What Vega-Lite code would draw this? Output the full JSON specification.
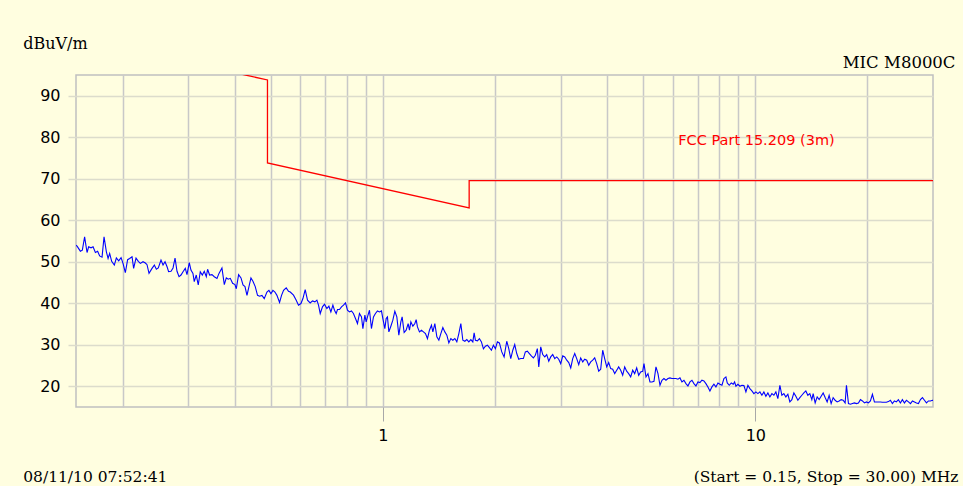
{
  "$schema": "https://vega.github.io/schema/vega-lite/v6.json",
  "width": 857,
  "height": 332,
  "autosize": {"type": "none"},
  "padding": {"left": 76, "top": 75, "right": 30, "bottom": 79},
  "background": "#fffee0",
  "config": {
    "view": {"stroke": "#c0c0c0", "strokeWidth": 1.5, "fill": "#fffee0"}
  },
  "datasets": {
    "trace": [
      {"freq":0.15,"level":54.0},{"freq":0.1510,"level":53.76},{"freq":0.1541,"level":52.55},{"freq":0.1560,"level":52.79},{"freq":0.1582,"level":56.0},{"freq":0.1606,"level":52.23},{"freq":0.1622,"level":53.6},{"freq":0.1646,"level":53.35},{"freq":0.1667,"level":53.6},{"freq":0.1691,"level":52.23},{"freq":0.1715,"level":52.55},{"freq":0.1736,"level":51.4},{"freq":0.1762,"level":51.1},{"freq":0.1784,"level":56.0},{"freq":0.1810,"level":52.4},{"freq":0.1829,"level":50.8},{"freq":0.1847,"level":52.0},{"freq":0.1870,"level":50.1},{"freq":0.1901,"level":49.2},{"freq":0.1925,"level":50.9},{"freq":0.1953,"level":50.2},{"freq":0.1982,"level":51.0},{"freq":0.2006,"level":49.6},{"freq":0.2035,"level":47.4},{"freq":0.2064,"level":50.5},{"freq":0.2090,"level":50.8},{"freq":0.2121,"level":51.2},{"freq":0.2142,"level":48.4},{"freq":0.2174,"level":50.9},{"freq":0.2205,"level":50.1},{"freq":0.2233,"level":49.6},{"freq":0.2270,"level":50.0},{"freq":0.2303,"level":49.7},{"freq":0.2327,"level":49.3},{"freq":0.2356,"level":47.2},{"freq":0.2400,"level":48.4},{"freq":0.2435,"level":49.2},{"freq":0.2465,"level":48.2},{"freq":0.2495,"level":48.5},{"freq":0.2537,"level":50.4},{"freq":0.2569,"level":49.2},{"freq":0.2601,"level":50.0},{"freq":0.2634,"level":48.8},{"freq":0.2659,"level":47.6},{"freq":0.2699,"level":47.7},{"freq":0.2733,"level":48.5},{"freq":0.2767,"level":50.9},{"freq":0.2801,"level":47.7},{"freq":0.2836,"level":46.4},{"freq":0.2871,"level":46.8},{"freq":0.2907,"level":47.6},{"freq":0.2948,"level":48.4},{"freq":0.2979,"level":46.9},{"freq":0.3022,"level":49.8},{"freq":0.3053,"level":48.0},{"freq":0.3091,"level":47.2},{"freq":0.3116,"level":45.2},{"freq":0.3155,"level":46.8},{"freq":0.3194,"level":44.4},{"freq":0.3234,"level":47.6},{"freq":0.3275,"level":46.8},{"freq":0.3315,"level":47.7},{"freq":0.3357,"level":46.4},{"freq":0.3384,"level":48.2},{"freq":0.3426,"level":46.8},{"freq":0.3477,"level":46.9},{"freq":0.3527,"level":46.4},{"freq":0.3586,"level":46.0},{"freq":0.3631,"level":47.2},{"freq":0.3698,"level":48.5},{"freq":0.3752,"level":44.5},{"freq":0.3799,"level":46.1},{"freq":0.3846,"level":45.8},{"freq":0.3894,"level":46.0},{"freq":0.3950,"level":44.8},{"freq":0.4008,"level":44.5},{"freq":0.4041,"level":43.5},{"freq":0.4099,"level":46.9},{"freq":0.4160,"level":46.1},{"freq":0.4212,"level":44.4},{"freq":0.4264,"level":44.0},{"freq":0.4317,"level":41.9},{"freq":0.4370,"level":44.0},{"freq":0.4424,"level":46.1},{"freq":0.4479,"level":45.3},{"freq":0.4543,"level":44.0},{"freq":0.4608,"level":41.9},{"freq":0.4666,"level":41.7},{"freq":0.4735,"level":41.9},{"freq":0.4803,"level":41.1},{"freq":0.4884,"level":42.7},{"freq":0.4944,"level":43.1},{"freq":0.5006,"level":42.3},{"freq":0.5068,"level":43.1},{"freq":0.5131,"level":42.7},{"freq":0.5195,"level":41.9},{"freq":0.5280,"level":40.2},{"freq":0.5345,"level":41.9},{"freq":0.5412,"level":43.1},{"freq":0.5502,"level":43.7},{"freq":0.5581,"level":42.9},{"freq":0.5641,"level":42.7},
      {"freq":0.5756,"level":41.94},{"freq":0.5853,"level":40.74},{"freq":0.5936,"level":39.53},{"freq":0.6026,"level":39.93},{"freq":0.6101,"level":41.14},{"freq":0.6187,"level":43.31},{"freq":0.6276,"level":40.74},{"freq":0.6381,"level":40.09},{"freq":0.6473,"level":40.57},{"freq":0.6569,"level":40.33},{"freq":0.6651,"level":40.74},{"freq":0.6718,"level":39.53},{"freq":0.6789,"level":37.52},{"freq":0.6885,"level":39.13},{"freq":0.6971,"level":39.77},{"freq":0.7075,"level":38.73},{"freq":0.7163,"level":39.29},{"freq":0.7252,"level":37.92},{"freq":0.7342,"level":39.53},{"freq":0.7415,"level":38.32},{"freq":0.7494,"level":37.52},{"freq":0.7555,"level":38.48},{"freq":0.7649,"level":38.48},{"freq":0.7744,"level":39.13},{"freq":0.7840,"level":39.53},{"freq":0.7938,"level":40.09},{"freq":0.8035,"level":38.32},{"freq":0.8135,"level":37.92},{"freq":0.8236,"level":38.16},{"freq":0.8337,"level":37.52},{"freq":0.8443,"level":36.31},{"freq":0.8547,"level":35.11},{"freq":0.8654,"level":37.52},{"freq":0.8763,"level":36.72},{"freq":0.8838,"level":33.90},{"freq":0.8948,"level":37.12},{"freq":0.9020,"level":35.51},{"freq":0.9093,"level":36.72},{"freq":0.9206,"level":38.32},{"freq":0.9319,"level":33.90},{"freq":0.9436,"level":36.72},{"freq":0.9552,"level":37.52},{"freq":0.9672,"level":38.16},{"freq":0.9793,"level":37.92},{"freq":0.9913,"level":38.16},{"freq":1.0,"level":36.31},{"freq":1.0124,"level":33.90},{"freq":1.0206,"level":36.31},{"freq":1.0288,"level":36.72},{"freq":1.0378,"level":33.10},{"freq":1.0507,"level":34.47},{"freq":1.0637,"level":35.91},{"freq":1.0769,"level":38.08},{"freq":1.0903,"level":36.72},{"freq":1.1038,"level":32.30},{"freq":1.1176,"level":35.51},{"freq":1.1266,"level":36.72},{"freq":1.1406,"level":32.94},{"freq":1.1548,"level":33.50},{"freq":1.1693,"level":35.11},{"freq":1.1787,"level":33.50},{"freq":1.1890,"level":35.51},{"freq":1.2038,"level":34.47},{"freq":1.2188,"level":35.11},{"freq":1.2286,"level":36.07},{"freq":1.2385,"level":34.30},{"freq":1.2539,"level":33.10},{"freq":1.2695,"level":33.50},{"freq":1.2853,"level":33.10},{"freq":1.3013,"level":32.70},{"freq":1.3175,"level":31.49},{"freq":1.3339,"level":33.50},{"freq":1.3505,"level":34.71},{"freq":1.3622,"level":33.10},{"freq":1.3791,"level":35.11},{"freq":1.3963,"level":31.89},{"freq":1.4137,"level":31.09},{"freq":1.4312,"level":32.70},{"freq":1.4490,"level":34.14},{"freq":1.4670,"level":33.10},{"freq":1.4853,"level":32.30},{"freq":1.5038,"level":30.45},{"freq":1.5224,"level":31.49},{"freq":1.5414,"level":31.09},{"freq":1.5605,"level":31.49},{"freq":1.5799,"level":30.69},{"freq":1.5996,"level":32.70},{"freq":1.6195,"level":35.11},{"freq":1.6396,"level":31.09},{"freq":1.6600,"level":30.85},{"freq":1.6806,"level":31.25},{"freq":1.7015,"level":30.69},{"freq":1.7227,"level":31.25},{"freq":1.7441,"level":30.69},{"freq":1.7582,"level":32.86},{"freq":1.7724,"level":31.09},{"freq":1.7944,"level":30.93},{"freq":1.8167,"level":31.49},{"freq":1.8393,"level":30.69},{"freq":1.8621,"level":29.0},{"freq":1.8853,"level":29.64},{"freq":1.9087,"level":29.88},{"freq":1.9324,"level":29.32},{"freq":1.9564,"level":28.68},{"freq":1.9807,"level":29.88},{"freq":2.0053,"level":29.08},{"freq":2.0302,"level":30.69},{"freq":2.0555,"level":30.45},
      {"freq":2.086,"level":28.28},{"freq":2.116,"level":27.07},{"freq":2.151,"level":30.85},{"freq":2.178,"level":29.08},{"freq":2.205,"level":26.67},{"freq":2.233,"level":28.68},{"freq":2.260,"level":30.05},{"freq":2.288,"level":27.88},{"freq":2.317,"level":26.51},{"freq":2.346,"level":26.67},{"freq":2.384,"level":26.67},{"freq":2.413,"level":28.28},{"freq":2.443,"level":28.44},{"freq":2.474,"level":27.88},{"freq":2.504,"level":27.31},{"freq":2.536,"level":26.83},{"freq":2.567,"level":27.47},{"freq":2.599,"level":29.08},{"freq":2.622,"level":24.66},{"freq":2.654,"level":29.48},{"freq":2.687,"level":27.63},{"freq":2.721,"level":27.07},{"freq":2.754,"level":27.63},{"freq":2.789,"level":26.03},{"freq":2.823,"level":27.07},{"freq":2.858,"level":27.63},{"freq":2.894,"level":26.67},{"freq":2.930,"level":27.07},{"freq":2.966,"level":26.51},{"freq":3.003,"level":25.46},{"freq":3.041,"level":27.31},{"freq":3.079,"level":27.07},{"freq":3.117,"level":26.27},{"freq":3.156,"level":25.71},{"freq":3.195,"level":24.42},{"freq":3.234,"level":26.67},{"freq":3.275,"level":27.88},{"freq":3.315,"level":26.67},{"freq":3.357,"level":25.22},{"freq":3.398,"level":26.83},{"freq":3.441,"level":25.87},{"freq":3.483,"level":26.51},{"freq":3.527,"level":26.27},{"freq":3.571,"level":25.06},{"freq":3.615,"level":25.87},{"freq":3.660,"level":26.27},{"freq":3.705,"level":26.83},{"freq":3.751,"level":25.46},{"freq":3.798,"level":23.62},{"freq":3.845,"level":24.10},{"freq":3.893,"level":28.68},{"freq":3.941,"level":26.67},{"freq":3.991,"level":24.66},{"freq":4.040,"level":25.71},{"freq":4.090,"level":24.26},{"freq":4.141,"level":24.10},{"freq":4.193,"level":23.05},{"freq":4.245,"level":23.86},{"freq":4.297,"level":24.66},{"freq":4.351,"level":23.86},{"freq":4.405,"level":22.65},{"freq":4.460,"level":24.66},{"freq":4.515,"level":23.62},{"freq":4.571,"level":23.05},{"freq":4.628,"level":22.25},{"freq":4.686,"level":23.86},{"freq":4.744,"level":23.05},{"freq":4.803,"level":24.42},{"freq":4.863,"level":22.65},{"freq":4.923,"level":23.45},{"freq":4.984,"level":23.62},{"freq":5.025,"level":25.46},{"freq":5.087,"level":22.25},{"freq":5.150,"level":23.05},{"freq":5.214,"level":21.04},{"freq":5.279,"level":21.04},{"freq":5.345,"level":21.20},{"freq":5.411,"level":24.66},{"freq":5.479,"level":23.05},{"freq":5.547,"level":20.24},{"freq":5.615,"level":21.44},{"freq":5.685,"level":21.85},{"freq":5.756,"level":21.44},{"freq":5.828,"level":21.85},{"freq":5.900,"level":22.01},{"freq":5.973,"level":21.85},{"freq":6.048,"level":21.85},{"freq":6.123,"level":21.85},{"freq":6.199,"level":21.69},{"freq":6.276,"level":22.01},{"freq":6.354,"level":21.04},{"freq":6.433,"level":21.44},{"freq":6.513,"level":20.64},{"freq":6.594,"level":20.08},{"freq":6.676,"level":21.04},{"freq":6.759,"level":21.44},{"freq":6.843,"level":20.64},{"freq":6.928,"level":20.08},{"freq":7.014,"level":21.04},{"freq":7.101,"level":20.88},
      {"freq":7.189,"level":21.45},{"freq":7.279,"level":21.29},{"freq":7.369,"level":20.64},{"freq":7.461,"level":19.84},{"freq":7.554,"level":18.87},{"freq":7.648,"level":19.84},{"freq":7.743,"level":20.48},{"freq":7.839,"level":19.84},{"freq":7.937,"level":20.80},{"freq":8.035,"level":20.48},{"freq":8.136,"level":20.24},{"freq":8.237,"level":21.85},{"freq":8.339,"level":22.25},{"freq":8.408,"level":20.80},{"freq":8.513,"level":20.24},{"freq":8.619,"level":20.80},{"freq":8.726,"level":20.48},{"freq":8.798,"level":21.04},{"freq":8.871,"level":20.0},{"freq":8.981,"level":20.48},{"freq":9.093,"level":20.0},{"freq":9.206,"level":20.24},{"freq":9.320,"level":20.16},{"freq":9.436,"level":18.63},{"freq":9.553,"level":20.24},{"freq":9.672,"level":19.44},{"freq":9.792,"level":18.87},{"freq":9.914,"level":18.23},{"freq":10.037,"level":18.63},{"freq":10.162,"level":18.23},{"freq":10.288,"level":18.63},{"freq":10.416,"level":17.83},{"freq":10.545,"level":18.63},{"freq":10.676,"level":17.59},{"freq":10.809,"level":18.39},{"freq":10.943,"level":17.43},{"freq":11.079,"level":18.23},{"freq":11.217,"level":17.83},{"freq":11.356,"level":18.63},{"freq":11.497,"level":17.03},{"freq":11.641,"level":20.24},{"freq":11.785,"level":17.83},{"freq":11.932,"level":18.23},{"freq":12.080,"level":17.43},{"freq":12.230,"level":18.07},{"freq":12.382,"level":16.22},{"freq":12.536,"level":16.78},{"freq":12.692,"level":18.39},{"freq":12.849,"level":17.59},{"freq":13.009,"level":16.62},{"freq":13.171,"level":17.27},{"freq":13.334,"level":17.83},{"freq":13.500,"level":18.39},{"freq":13.668,"level":18.87},{"freq":13.838,"level":17.83},{"freq":14.010,"level":18.23},{"freq":14.184,"level":16.78},{"freq":14.301,"level":18.23},{"freq":14.479,"level":15.98},{"freq":14.659,"level":17.43},{"freq":14.841,"level":16.78},{"freq":15.025,"level":17.59},{"freq":15.212,"level":18.39},{"freq":15.401,"level":17.27},{"freq":15.592,"level":16.22},{"freq":15.786,"level":17.83},{"freq":15.982,"level":15.82},{"freq":16.181,"level":17.27},{"freq":16.382,"level":16.62},{"freq":16.585,"level":16.22},{"freq":16.791,"level":16.46},{"freq":17.000,"level":16.78},{"freq":17.211,"level":16.62},{"freq":17.425,"level":15.98},{"freq":17.569,"level":20.24},{"freq":17.788,"level":15.82},{"freq":18.009,"level":15.66},{"freq":18.232,"level":15.82},{"freq":18.459,"level":15.98},{"freq":18.688,"level":15.82},{"freq":18.920,"level":15.98},{"freq":19.155,"level":16.78},{"freq":19.393,"level":16.46},{"freq":19.634,"level":15.98},{"freq":19.878,"level":16.22},{"freq":20.125,"level":15.98},{"freq":20.375,"level":16.46},{"freq":20.628,"level":18.07},{"freq":20.885,"level":16.22},{"freq":21.144,"level":16.22},{"freq":21.407,"level":16.22},{"freq":21.673,"level":16.22},{"freq":21.942,"level":16.14},{"freq":22.215,"level":16.14},{"freq":22.491,"level":16.14},{"freq":22.770,"level":16.30},{"freq":23.053,"level":16.62},{"freq":23.339,"level":15.82},{"freq":23.629,"level":16.46},{"freq":23.923,"level":16.22},{"freq":24.220,"level":16.78},{"freq":24.521,"level":15.98},{"freq":24.826,"level":16.78},{"freq":25.147,"level":15.98},{"freq":25.460,"level":16.62},{"freq":25.777,"level":16.22},{"freq":26.099,"level":15.82},{"freq":26.423,"level":16.46},{"freq":26.752,"level":16.22},{"freq":27.084,"level":15.98},{"freq":27.420,"level":15.82},{"freq":27.762,"level":16.78},{"freq":28.106,"level":17.27},{"freq":28.457,"level":16.62},{"freq":28.809,"level":15.98},{"freq":29.168,"level":16.46},{"freq":29.530,"level":16.46},{"freq":29.899,"level":16.62},{"freq":30.0,"level":16.6}
    ],
    "limit": [
      {"freq": 0.15, "level": 104.08},
      {"freq": 0.49, "level": 93.8},
      {"freq": 0.49, "level": 73.8},
      {"freq": 1.705, "level": 62.97},
      {"freq": 1.705, "level": 69.54},
      {"freq": 30.0, "level": 69.54}
    ],
    "labels": [
      {"freq": 6.21, "level": 79.2, "text": "FCC Part 15.209 (3m)"}
    ]
  },
  "resolve": {"axis": {"x": "independent", "y": "independent"}},
  "layer": [
    {
      "data": {"name": "trace"},
      "mark": {"type": "line", "color": "#0000ff", "strokeWidth": 1.1, "clip": true},
      "encoding": {
        "x": {
          "field": "freq", "type": "quantitative",
          "scale": {"type": "log", "domain": [0.15, 30], "nice": false},
          "axis": {
            "orient": "bottom",
            "values": [0.2, 0.3, 0.4, 0.5, 0.6, 0.7, 0.8, 0.9, 1, 2, 3, 4, 5, 6, 7, 8, 9, 10, 20],
            "labelExpr": "(datum.value == 1 || datum.value == 10) ? format(datum.value, 'd') : ''",
            "grid": true, "gridColor": "#c8c8c8", "gridWidth": 1.5,
            "domain": false,
            "tickSize": 14, "tickColor": "#a8a8a8", "tickWidth": 1,
            "tickOpacity": {"condition": {"test": "datum.value == 1 || datum.value == 10", "value": 1}, "value": 0},
            "labelFont": "DejaVu Sans", "labelFontSize": 16, "labelColor": "#000000", "labelPadding": 6,
            "labelOverlap": false,
            "title": "(Start = 0.15, Stop = 30.00) MHz",
            "titleFont": "DejaVu Serif", "titleFontSize": 15.5, "titleFontWeight": "normal", "titleColor": "#000000",
            "titleX": 882, "titleY": 74.5, "titleAlign": "right", "titleBaseline": "alphabetic", "titleAnchor": null
          }
        },
        "y": {
          "field": "level", "type": "quantitative",
          "scale": {"domain": [15, 95], "nice": false, "zero": false},
          "axis": {
            "orient": "left",
            "values": [20, 30, 40, 50, 60, 70, 80, 90],
            "grid": true, "gridColor": "#dcdccc", "gridWidth": 1.5,
            "domain": false,
            "tickSize": 8, "tickColor": "#dcdccc", "tickWidth": 1.5,
            "labelFont": "DejaVu Sans", "labelFontSize": 16, "labelColor": "#000000", "labelPadding": 8,
            "title": "dBuV/m",
            "titleFont": "DejaVu Serif", "titleFontSize": 16, "titleFontWeight": "normal", "titleColor": "#000000",
            "titleAngle": 0, "titleX": -53.3, "titleY": -26.7, "titleAlign": "left", "titleBaseline": "alphabetic", "titleAnchor": null
          }
        }
      }
    },
    {
      "data": {"name": "limit"},
      "mark": {"type": "line", "color": "#ff0000", "strokeWidth": 1.3, "clip": true},
      "encoding": {
        "x": {
          "field": "freq", "type": "quantitative",
          "axis": {
            "orient": "top", "domain": false, "ticks": false, "labels": false, "grid": false,
            "title": "08/11/10 07:52:41",
            "titleFont": "DejaVu Serif", "titleFontSize": 15.5, "titleFontWeight": "normal", "titleColor": "#000000",
            "titleX": -53.3, "titleY": 406.5, "titleAlign": "left", "titleBaseline": "alphabetic", "titleAnchor": null
          }
        },
        "y": {
          "field": "level", "type": "quantitative",
          "axis": {
            "orient": "right", "domain": false, "ticks": false, "labels": false, "grid": false,
            "title": "MIC M8000C",
            "titleFont": "DejaVu Serif", "titleFontSize": 16.5, "titleFontWeight": "normal", "titleColor": "#000000",
            "titleAngle": 0, "titleX": 22, "titleY": -7.7, "titleAlign": "right", "titleBaseline": "alphabetic", "titleAnchor": null
          }
        }
      }
    },
    {
      "data": {"name": "labels"},
      "mark": {"type": "text", "color": "#ff0000", "font": "DejaVu Sans", "fontSize": 14.5, "align": "left", "baseline": "middle"},
      "encoding": {
        "x": {"field": "freq", "type": "quantitative", "axis": null},
        "y": {"field": "level", "type": "quantitative", "axis": null},
        "text": {"field": "text"}
      }
    }
  ]
}
